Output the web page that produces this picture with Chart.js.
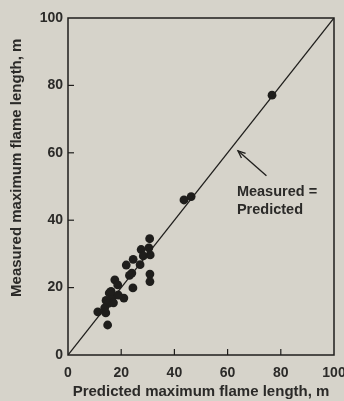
<!DOCTYPE html>
<html>
<head>
<meta charset="utf-8">
<script src="https://cdn.jsdelivr.net/npm/chart.js@4.4.1/dist/chart.umd.min.js"></script>
<style>
  html, body { margin: 0; padding: 0; background: #d6d3ca; }
  #wrap { width: 344px; height: 401px; }
</style>
</head>
<body>
<div id="wrap"><canvas id="grafico" width="344" height="401"></canvas></div>
<script>
// valores (m)
const predicted = [76.7, 46.3, 43.6, 30.7, 27.5, 30.4, 30.9, 24.5, 27.1, 21.9, 24.0, 23.1, 30.8, 30.8,
    17.6, 18.7, 24.4, 15.5, 16.8, 21.0, 14.3, 15.2, 17.1, 13.8, 11.2, 14.2, 14.9, 28.3, 16.2, 18.9];
const measured = [77.1, 47.0, 46.0, 34.5, 31.3, 31.8, 29.7, 28.4, 26.8, 26.7, 24.3, 23.6, 24.0, 21.8,
    22.3, 20.8, 19.9, 18.4, 17.4, 16.9, 16.2, 15.3, 15.5, 14.0, 12.8, 12.5, 8.9, 29.4, 18.9, 17.8];
const tickValues = [0, 20, 40, 60, 80, 100];
const equalityLine = [0, 100];

const textColor = '#2b2a28';
const ink = '#1f1e1c';

Chart.defaults.font.family = "'Liberation Sans', Arial, sans-serif";
Chart.defaults.font.weight = 'bold';
Chart.defaults.font.size = 14;
Chart.defaults.color = textColor;

// moldura, ticks para dentro e anotacao da seta
const molduraPlugin = {
    id: 'moldura',
    afterDraw(chart) {
        const ctx = chart.ctx;
        const area = chart.chartArea;
        const x = chart.scales.x;
        const y = chart.scales.y;
        ctx.save();
        ctx.strokeStyle = ink;
        ctx.lineWidth = 1.5;
        ctx.strokeRect(area.left, area.top, area.right - area.left, area.bottom - area.top);

        ctx.lineWidth = 1.2;
        tickValues.slice(1, -1).forEach(v => {
            const px = x.getPixelForValue(v);
            ctx.beginPath();
            ctx.moveTo(px, area.bottom);
            ctx.lineTo(px, area.bottom - 6);
            ctx.stroke();
            const py = y.getPixelForValue(v);
            ctx.beginPath();
            ctx.moveTo(area.left, py);
            ctx.lineTo(area.left + 6, py);
            ctx.stroke();
        });

        // seta "Measured = Predicted"
        const x0 = x.getPixelForValue(74.6), y0 = y.getPixelForValue(53.2);
        const x1 = x.getPixelForValue(63.9), y1 = y.getPixelForValue(60.6);
        ctx.lineWidth = 1.3;
        ctx.beginPath();
        ctx.moveTo(x0, y0);
        ctx.lineTo(x1, y1);
        ctx.stroke();
        const ang = Math.atan2(y1 - y0, x1 - x0);
        ctx.beginPath();
        ctx.moveTo(x1 - 8 * Math.cos(ang - 0.4), y1 - 8 * Math.sin(ang - 0.4));
        ctx.lineTo(x1, y1);
        ctx.lineTo(x1 - 8 * Math.cos(ang + 0.4), y1 - 8 * Math.sin(ang + 0.4));
        ctx.stroke();

        ctx.fillStyle = textColor;
        ctx.font = "bold 14.5px 'Liberation Sans', Arial, sans-serif";
        ctx.textAlign = 'left';
        ctx.textBaseline = 'middle';
        const tx = x.getPixelForValue(63.5);
        ctx.fillText('Measured =', tx, y.getPixelForValue(48.5));
        ctx.fillText('Predicted', tx, y.getPixelForValue(43.0));
        ctx.restore();
    }
};

const ctx = document.getElementById('grafico').getContext('2d');
new Chart(ctx, {
    type: 'scatter',
    data: {
        datasets: [{
            type: 'line',
            data: equalityLine.map(v => ({ x: v, y: v })),
            borderColor: ink,
            borderWidth: 1.3,
            pointRadius: 0,
            fill: false
        }, {
            data: predicted.map((p, i) => ({ x: p, y: measured[i] })),
            backgroundColor: ink,
            borderColor: ink,
            borderWidth: 0,
            pointRadius: 4.4
        }]
    },
    options: {
        responsive: false,
        animation: false,
        layout: { padding: { top: 18, right: 10, left: 0, bottom: 0 } },
        plugins: {
            legend: { display: false },
            tooltip: { enabled: false }
        },
        scales: {
            x: {
                type: 'linear',
                min: 0,
                max: 100,
                afterFit: scale => {
                    scale.height = 46;
                    scale.paddingLeft = 0;
                    scale.paddingRight = 0;
                },
                afterBuildTicks: scale => { scale.ticks = tickValues.map(v => ({ value: v })); },
                grid: { display: false, drawTicks: false },
                border: { display: false },
                ticks: { padding: 10, color: textColor, maxRotation: 0 },
                title: {
                    display: true,
                    text: 'Predicted maximum flame length, m',
                    color: textColor,
                    font: { size: 15, weight: 'bold' },
                    padding: { top: 2, bottom: 0 }
                }
            },
            y: {
                type: 'linear',
                min: 0,
                max: 100,
                afterFit: scale => {
                    scale.width = 68;
                    scale.paddingTop = 0;
                    scale.paddingBottom = 0;
                },
                afterBuildTicks: scale => { scale.ticks = tickValues.map(v => ({ value: v })); },
                grid: { display: false, drawTicks: false },
                border: { display: false },
                ticks: { padding: 5, color: textColor },
                title: {
                    display: true,
                    text: '         Measured maximum flame length, m',
                    color: textColor,
                    font: { size: 15, weight: 'bold' },
                    padding: { top: 8, bottom: 0 }
                }
            }
        }
    },
    plugins: [molduraPlugin]
});
</script>
</body>
</html>
